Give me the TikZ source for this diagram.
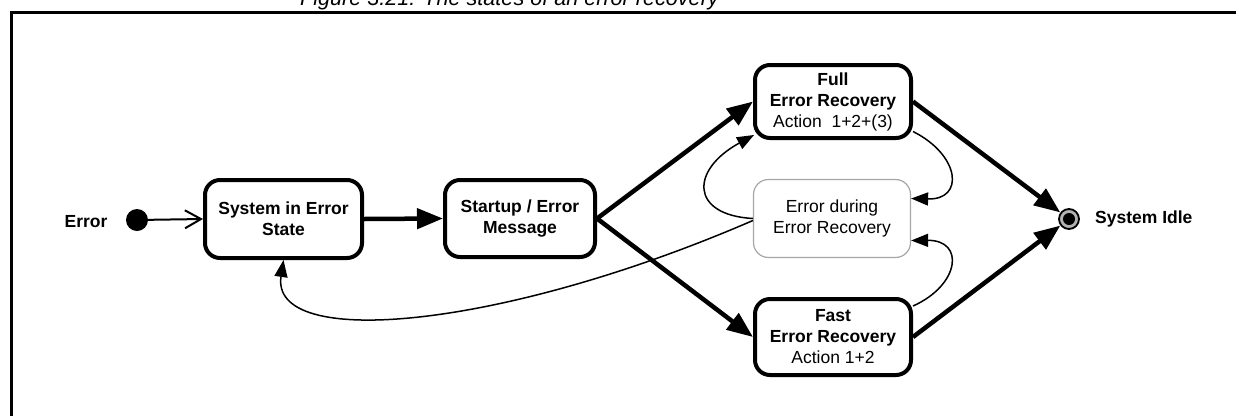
\documentclass[tikz,border=0pt]{standalone}
\usepackage{fontspec}
\setmainfont{Liberation Sans}
\usetikzlibrary{arrows.meta,calc}
\begin{document}
\begin{tikzpicture}[x=1pt,y=-1pt,
  txt/.style={font=\fontsize{17.5}{21}\selectfont},
  state/.style={txt, draw, line width=4pt, rounded corners=15pt, align=center, inner sep=0pt, fill=white},
  softstate/.style={txt, draw=black!35, line width=1.2pt, rounded corners=15pt, align=center, inner sep=0pt, fill=white},
  thickarrow/.style={line width=4.5pt, -{Triangle[length=26pt,width=20pt]}},
  thinarrow/.style={line width=1.5pt, -{Triangle[length=17pt,width=13pt]}},
  lbl/.style={txt, font=\fontsize{17.5}{21}\selectfont\bfseries, inner sep=0pt}
]
\useasboundingbox (0,0) rectangle (1236,416);
% frame and caption
\draw[line width=3pt] (11,416) -- (11,12) -- (1236,12);
\node[anchor=base west, inner sep=0pt, font=\fontsize{21.6}{24}\selectfont\itshape] (cap) at (300,5) {Figure 3.21: The states of an error recovery};

% states
\node[lbl] (errlbl) at (86,222) {Error};
\node[circle, fill=black, minimum size=22pt, inner sep=0pt] (init) at (137,220) {};
\node[state, minimum width=157pt, minimum height=78pt] (sys) at (283.5,219) {\bfseries System in Error\\\bfseries State};
\node[state, minimum width=150pt, minimum height=77pt] (start) at (520,218.5) {\bfseries Startup / Error\\\bfseries Message};
\node[state, minimum width=156pt, minimum height=73pt] (full) at (833,101.5) {\bfseries Full\\\bfseries Error Recovery\\Action\ \ 1+2+(3)};
\node[softstate, minimum width=157pt, minimum height=78pt] (err) at (832,218.5) {Error during\\Error Recovery};
\node[state, minimum width=156pt, minimum height=76pt] (fast) at (833,337) {\bfseries Fast\\\bfseries Error Recovery\\Action 1+2};
\node[circle, draw, line width=1.8pt, fill=black!30, minimum size=20pt, inner sep=0pt] (final) at (1069,219) {};
\node[circle, fill=black, minimum size=12pt, inner sep=0pt] (finaldot) at (final.center) {};
\node[lbl, anchor=west] (idlelbl) at (1095,219) {System Idle};

% transitions
\draw[line width=2pt, -{Straight Barb[length=16pt,width=18pt]}] (init) -- (sys.west);
\draw[thickarrow] (sys.east) -- (start.west);
\draw[thickarrow] (start.east) -- (full.west);
\draw[thickarrow] (start.east) -- (fast.west);
\draw[thickarrow] (full.east) -- (final);
\draw[thickarrow] (fast.east) -- (final);
\draw[thinarrow] ($(full.east)+(0,30)$) .. controls (960,155) and (965,200) .. ($(err.east)+(0,-20)$);
\draw[thinarrow] ($(fast.east)+(0,-31)$) .. controls (960,285) and (965,240) .. ($(err.east)+(0,22)$);
\draw[thinarrow] (err.west) .. controls (690,215) and (690,170) .. ($(full.south west)+(1,-5)$);
\draw[thinarrow] ($(err.west)+(0,2)$) .. controls (500,330) and (270,350) .. (sys.south);
\end{tikzpicture}
\end{document}
